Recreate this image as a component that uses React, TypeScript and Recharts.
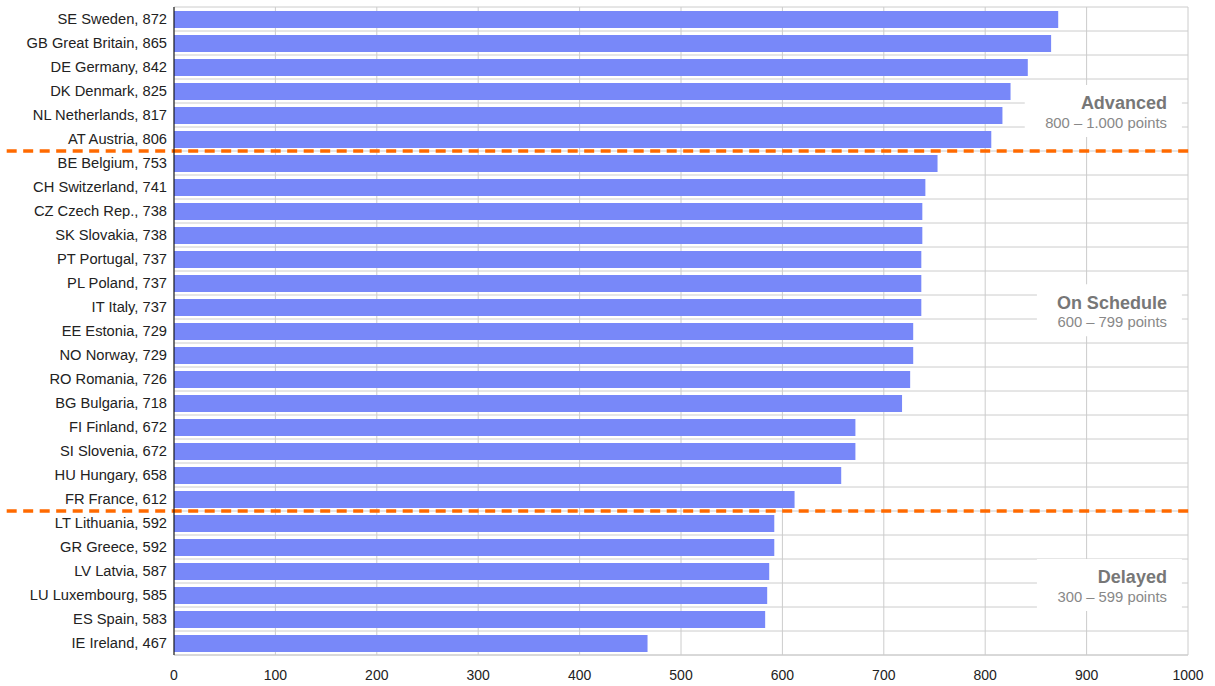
import React from "react";
import {
  BarChart,
  Bar,
  XAxis,
  YAxis,
  CartesianGrid,
  ReferenceLine,
  ReferenceArea,
} from "recharts";

const countries = [
  "SE Sweden", "GB Great Britain", "DE Germany", "DK Denmark", "NL Netherlands", "AT Austria",
  "BE Belgium", "CH Switzerland", "CZ Czech Rep.", "SK Slovakia", "PT Portugal", "PL Poland",
  "IT Italy", "EE Estonia", "NO Norway", "RO Romania", "BG Bulgaria", "FI Finland",
  "SI Slovenia", "HU Hungary", "FR France", "LT Lithuania", "GR Greece", "LV Latvia",
  "LU Luxembourg", "ES Spain", "IE Ireland",
];
const scores = [
  872, 865, 842, 825, 817, 806,
  753, 741, 738, 738, 737, 737,
  737, 729, 729, 726, 718, 672,
  672, 658, 612, 592, 592, 587,
  585, 583, 467,
];
const xTicks = [0, 100, 200, 300, 400, 500, 600, 700, 800, 900, 1000];

// group boundaries (after AT Austria, after FR France), in row units
const groupCuts = [5.5, 20.5];

const groups = [
  { title: "Advanced", range: "800 \u2013 1.000 points", row: 3.5, from: 839 },
  { title: "On Schedule", range: "600 \u2013 799 points", row: 11.8, from: 851 },
  { title: "Delayed", range: "300 \u2013 599 points", row: 23.25, from: 851 },
];

const data = countries.map((c, i) => ({ label: `${c}, ${scores[i]}`, value: scores[i] }));
const rowEdges = Array.from({ length: countries.length + 1 }, (_, i) => i - 0.5);

const BAR = "#7888f9";
const ORANGE = "#ff6a00";
const HALF_ROW = 12;

const GroupLabel = ({ viewBox, title, range }: any) => {
  const right = viewBox.x + viewBox.width - 15;
  const top = viewBox.y + 18;
  return (
    <g>
      <text x={right} y={top} dy="0.35em" textAnchor="end" fontSize={18} fontWeight="bold" fill="#777">
        {title}
      </text>
      <text x={right} y={top + 20} dy="0.35em" textAnchor="end" fontSize={14.8} fill="#888">
        {range}
      </text>
    </g>
  );
};

export default function App() {
  return (
    <div style={{ position: "absolute", left: 0, top: 0, fontFamily: "'Liberation Sans', Arial, sans-serif", background: "#fff" }}>
      <BarChart
        width={1215}
        height={686}
        layout="vertical"
        data={data}
        margin={{ top: 7, right: 27, bottom: 0, left: 0 }}
      >
        <YAxis
          yAxisId="grid"
          type="number"
          domain={[0, countries.length - 1]}
          padding={{ top: HALF_ROW, bottom: HALF_ROW }}
          ticks={rowEdges}
          hide
        />
        <CartesianGrid yAxisId="grid" stroke="#cccccc" />
        <XAxis
          type="number"
          domain={[0, 1000]}
          ticks={xTicks}
          interval={0}
          axisLine={false}
          tickLine={false}
          tickSize={0}
          tickMargin={15}
          height={31}
          tick={{ fontSize: 14, fill: "#222" }}
        />
        <YAxis
          type="category"
          dataKey="label"
          width={174}
          interval={0}
          tickLine={false}
          tickSize={0}
          tickMargin={7}
          axisLine={{ stroke: "#000" }}
          tick={{ fontSize: 14.7, fill: "#222" }}
        />
        {groups.map((g) => (
          <ReferenceArea
            key={g.title}
            yAxisId="grid"
            x1={g.from}
            x2={994}
            y1={g.row - 0.75}
            y2={g.row + 1.42}
            ifOverflow="visible"
            fill="#fff"
            fillOpacity={1}
            stroke="none"
            label={(p: any) => <GroupLabel {...p} title={g.title} range={g.range} />}
          />
        ))}
        <Bar dataKey="value" fill={BAR} barSize={17} isAnimationActive={false} />
        {groupCuts.map((y) => (
          <ReferenceLine
            key={y}
            yAxisId="grid"
            segment={[{ x: -165, y }, { x: 1002, y }]}
            ifOverflow="visible"
            stroke={ORANGE}
            strokeWidth={3.5}
            strokeDasharray="10 6.5"
          />
        ))}
      </BarChart>
    </div>
  );
}
